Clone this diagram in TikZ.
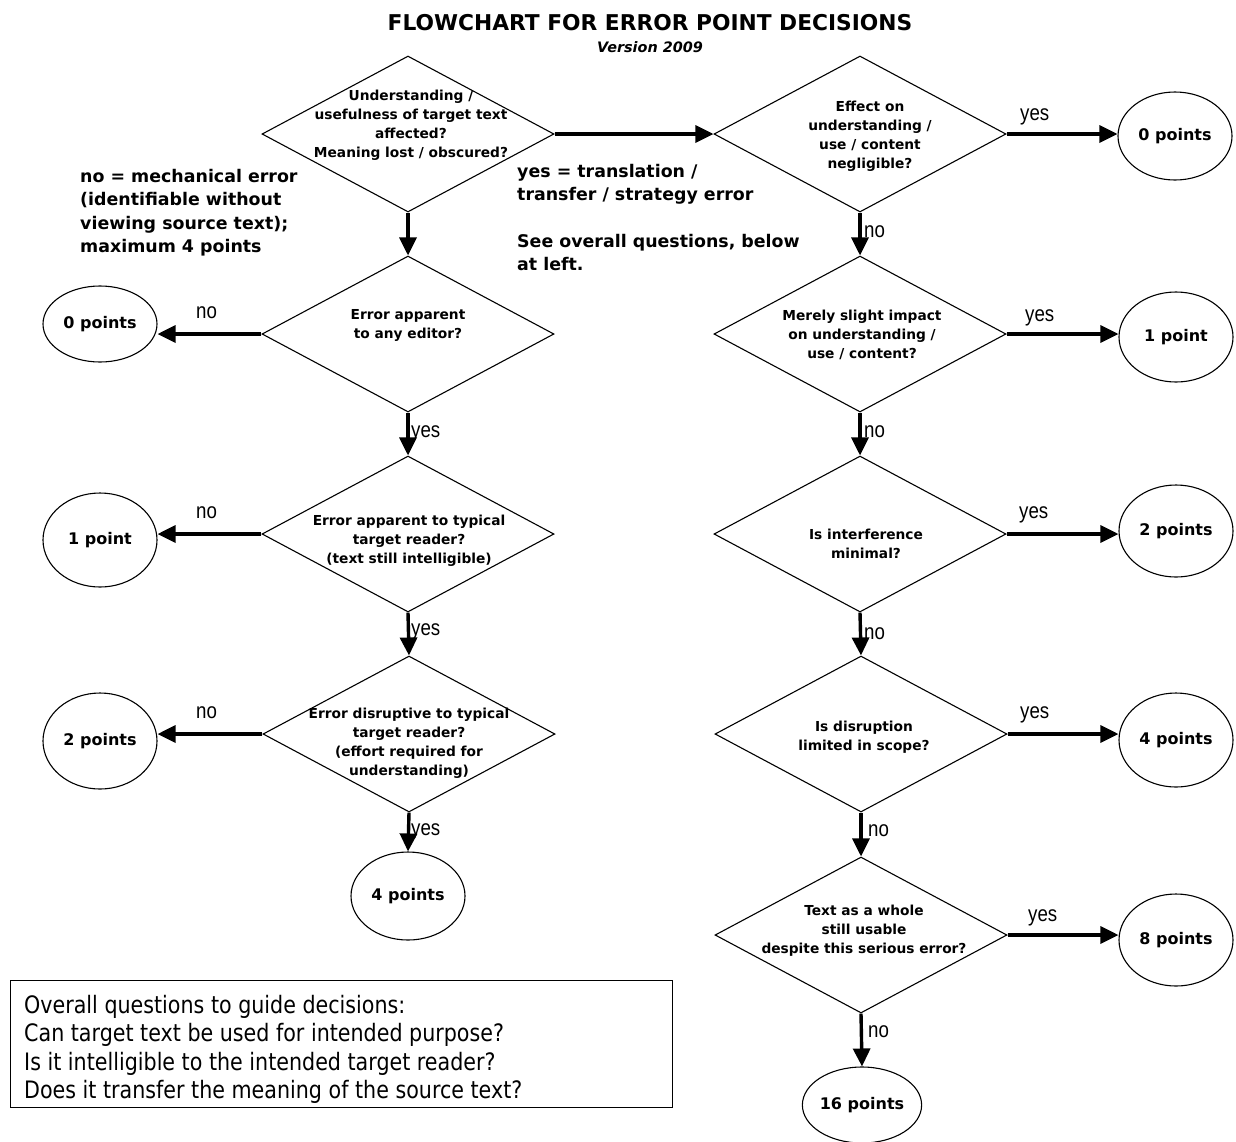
\documentclass[tikz,border=0pt]{standalone}
\usepackage{fontspec}
\setmainfont{DejaVu Sans}
\newfontfamily\narrowreg{DejaVu Sans}[FakeStretch=0.86]
\newfontfamily\labfont{Liberation Sans}[FakeStretch=0.85]
\usetikzlibrary{shapes.geometric,arrows.meta}
\begin{document}
\begin{tikzpicture}[x=1pt,y=-1pt,
 dia/.style={draw,diamond,minimum width=292pt,minimum height=156pt,inner sep=0pt,line width=1.1pt},
 dtext/.style={font=\bfseries\fontsize{13.75}{19}\selectfont,align=center,inner sep=0pt},
 pts/.style={draw,ellipse,minimum width=114pt,line width=1.1pt,font=\bfseries\fontsize{16}{19}\selectfont,inner sep=0pt},
 arr/.style={line width=3.4pt,-{Triangle[width=17pt,length=18pt]}},
 lab/.style={font=\labfont\fontsize{22}{24}\selectfont,inner sep=0pt,anchor=base west},
 note/.style={font=\bfseries\fontsize{17.4}{23.5}\selectfont,align=left,inner sep=0pt,anchor=north west},
]
\useasboundingbox (0,0) rectangle (1236,1141);
% title
\node[font=\bfseries\fontsize{21.75}{24}\selectfont,inner sep=0pt] (title) at (650,23) {FLOWCHART FOR ERROR POINT DECISIONS};
\node[font=\bfseries\itshape\fontsize{14.4}{16}\selectfont,inner sep=0pt] (version) at (650,47) {Version 2009};
% left column
\node[dia] (d1) at (408,134) {};
\node[dtext] (t1) at (411,125) {Understanding /\\usefulness of target text\\affected?\\Meaning lost / obscured?};
\node[dia] (d2) at (408,334) {};
\node[dtext] (t2) at (408,325) {Error apparent\\to any editor?};
\node[dia] (d3) at (408,534) {};
\node[dtext] (t3) at (409,541) {Error apparent to typical\\target reader?\\(text still intelligible)};
\node[dia] (d4) at (409,734) {};
\node[dtext] (t4) at (409,743) {Error disruptive to typical\\target reader?\\(effort required for\\understanding)};
\node[pts,minimum height=88pt] (p4l) at (408,896) {4 points};
\node[pts,minimum height=76pt] (p0l) at (100,324) {0 points};
\node[pts,minimum height=94pt] (p1l) at (100,540) {1 point};
\node[pts,minimum height=96pt] (p2l) at (100,741) {2 points};
% right column
\node[dia] (r1) at (860,134) {};
\node[dtext] (s1) at (870,136) {Effect on\\understanding /\\use / content\\negligible?};
\node[dia] (r2) at (860,334) {};
\node[dtext] (s2) at (862,335) {Merely slight impact\\on understanding /\\use / content?};
\node[dia] (r3) at (860,534) {};
\node[dtext] (s3) at (866,544) {Is interference\\minimal?};
\node[dia] (r4) at (861,734) {};
\node[dtext] (s4) at (864,737) {Is disruption\\limited in scope?};
\node[dia] (r5) at (861,935) {};
\node[dtext] (s5) at (864,931) {Text as a whole\\still usable\\despite this serious error?};
\node[pts,minimum height=88pt] (p0r) at (1175,136) {0 points};
\node[pts,minimum height=90pt] (p1r) at (1176,337) {1 point};
\node[pts,minimum height=92pt] (p2r) at (1176,531) {2 points};
\node[pts,minimum height=94pt] (p4r) at (1176,740) {4 points};
\node[pts,minimum height=92pt] (p8r) at (1176,940) {8 points};
\node[pts,minimum height=76pt] (p16) at (862,1105) {16 points};
% notes
\node[note] (n1) at (80,169) {no = mechanical error\\(identifiable without\\viewing source text);\\maximum 4 points};
\node[note] (n2) at (517,164) {yes = translation /\\transfer / strategy error};
\node[note] (n3) at (517,234) {See overall questions, below\\at left.};
% box
\node[draw,line width=1pt,minimum width=662pt,minimum height=127pt,anchor=north west,inner sep=0pt] (box) at (10,980) {};
\node[font=\narrowreg\fontsize{24}{28.3}\selectfont,align=left,inner sep=0pt,anchor=north west] (boxtext) at (24,995) {Overall questions to guide decisions:\\Can target text be used for intended purpose?\\Is it intelligible to the intended target reader?\\Does it transfer the meaning of the source text?};
% arrows
\draw[arr] (d1.east) -- (r1.west);
\draw[arr] (d1.south) -- (d2.north);
\draw[arr] (d2.south) -- (d3.north);
\draw[arr] (d3.south) -- (d4.north);
\draw[arr] (d4.south) -- (p4l.north);
\draw[arr] (d2.west) -- (d2.west -| p0l.east);
\draw[arr] (d3.west) -- (d3.west -| p1l.east);
\draw[arr] (d4.west) -- (d4.west -| p2l.east);
\draw[arr] (r1.south) -- (r2.north);
\draw[arr] (r2.south) -- (r3.north);
\draw[arr] (r3.south) -- (r4.north);
\draw[arr] (r4.south) -- (r5.north);
\draw[arr] (r5.south) -- (p16.north);
\draw[arr] (r1.east) -- (r1.east -| p0r.west);
\draw[arr] (r2.east) -- (r2.east -| p1r.west);
\draw[arr] (r3.east) -- (r3.east -| p2r.west);
\draw[arr] (r4.east) -- (r4.east -| p4r.west);
\draw[arr] (r5.east) -- (r5.east -| p8r.west);
% labels
\node[lab] (l1) at (196,318) {no};
\node[lab] (l2) at (196,518) {no};
\node[lab] (l3) at (196,718) {no};
\node[lab] (l4) at (411,437) {yes};
\node[lab] (l5) at (411,635) {yes};
\node[lab] (l6) at (411,835) {yes};
\node[lab] (m1) at (1020,120) {yes};
\node[lab] (m2) at (1025,321) {yes};
\node[lab] (m3) at (1019,518) {yes};
\node[lab] (m4) at (1020,718) {yes};
\node[lab] (m5) at (1028,921) {yes};
\node[lab] (k1) at (864,237) {no};
\node[lab] (k2) at (864,437) {no};
\node[lab] (k3) at (864,639) {no};
\node[lab] (k4) at (868,836) {no};
\node[lab] (k5) at (868,1037) {no};
\end{tikzpicture}
\end{document}
